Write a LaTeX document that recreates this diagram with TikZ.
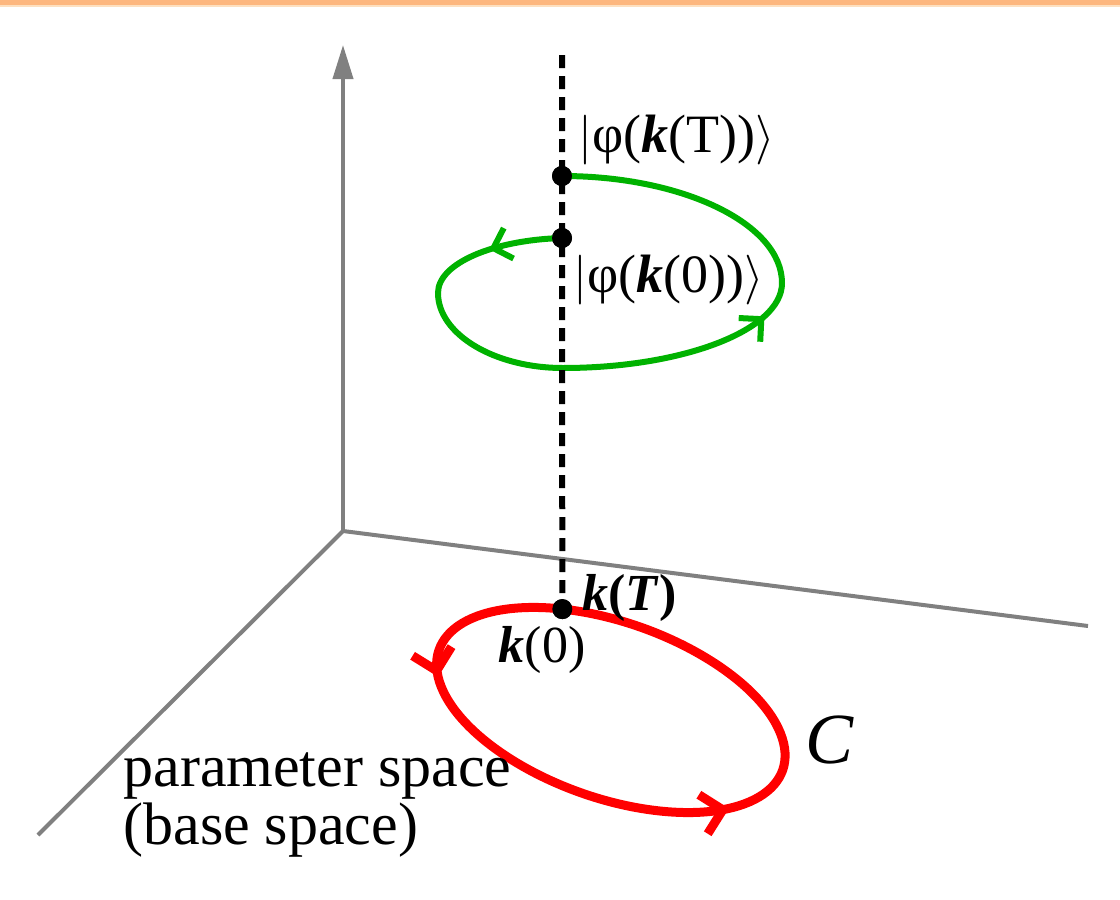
\documentclass[tikz,border=0pt]{standalone}
\usepackage{fontspec}
\setmainfont{Liberation Serif}
\usetikzlibrary{arrows.meta,decorations.markings}
\definecolor{barorange}{RGB}{253,183,127}
\definecolor{barlight}{RGB}{253,224,192}
\definecolor{axisgray}{RGB}{128,128,128}
\definecolor{loopgreen}{RGB}{0,178,0}
\definecolor{loopred}{RGB}{255,0,0}
\begin{document}
\begin{tikzpicture}[
    x=0.5pt, y=-0.5pt,
    axis/.style={draw=axisgray, line width=2pt},
    fiber/.style={draw=black, line width=3pt, dash pattern=on 6.5pt off 4pt},
    dot/.style={circle, fill=black, inner sep=0pt, minimum size=10pt},
    lbl/.style={inner sep=0pt, font=\fontsize{26}{30}\selectfont},
    ket/.style={lbl, font=\fontsize{27}{30}\selectfont},
    twobarbs/.style n args={3}{
      postaction={decorate},
      decoration={markings,
        mark=at position #1 with {\arrow{Straight Barb[length=#3,width=2*#3]}},
        mark=at position #2 with {\arrow{Straight Barb[length=#3,width=2*#3]}}}
    }
  ]
    \useasboundingbox (0,0) rectangle (1120,900);
    \fill[barorange] (0,0) rectangle (1120,5);
    \fill[barlight] (0,5) rectangle (1120,6.5);

    % axes
    \coordinate (o) at (343,531);
    \coordinate (xend) at (38,835);
    \coordinate (yend) at (1088,626);
    \coordinate (zend) at (343,45);
    \draw[axis] (o) -- (xend);
    \draw[axis] (o) -- (yend);
    \draw[axis, -{Triangle[length=17pt,width=10pt]}] (o) -- (zend);

    % points on the fiber
    \node[dot] (k0) at (562.3,609.1) {};
    \node[dot] (phiT) at (562,176) {};
    \node[dot] (phi0) at (562,238) {};
    \coordinate (ftop) at (562,55);

    % loop C in the base space
    \draw[loopred, line width=4.5pt, twobarbs={0.19}{0.58}{10pt},
          rotate around={-19.3:(611,710)}]
      (k0.center) arc[start angle=244.2, end angle=-115.8,
                      x radius=182, y radius=88];

    % lifted path of the state
    \draw[loopgreen, line width=3pt, twobarbs={0.09}{0.63}{8pt}]
      (phi0.center) .. controls (494,240) and (438,263) .. (438,293)
      .. controls (438,334) and (494,368) .. (563,368)
      .. controls (683,368) and (782,330) .. (782,283)
      .. controls (782,224) and (683,176) .. (phiT.center);

    \draw[fiber] (ftop) -- (k0.center);

    \node[dot] at (k0) {};
    \node[dot] at (phiT) {};
    \node[dot] at (phi0) {};

    % labels
    \node[ket, anchor=west] (ketT) at (578,140)
      {$\bigl|$φ(\textbf{\textit{k}}(T))$\rangle$};
    \node[ket, anchor=west] (ket0) at (573,280)
      {$\bigl|$φ(\textbf{\textit{k}}(0))$\rangle$};
    \node[lbl, anchor=west] (kT) at (582,598) {\textbf{\textit{k}(\textit{T})}};
    \node[lbl] (kzero) at (542,650) {\textbf{\textit{k}}(0)};
    \node[inner sep=0pt, font=\fontsize{36}{40}\selectfont] (cname) at (830,740) {\textit{C}};
    \node[lbl, anchor=north west, align=left, font=\fontsize{30}{29}\selectfont] (base) at (123,752)
      {parameter space\\(base space)};
\end{tikzpicture}
\end{document}
